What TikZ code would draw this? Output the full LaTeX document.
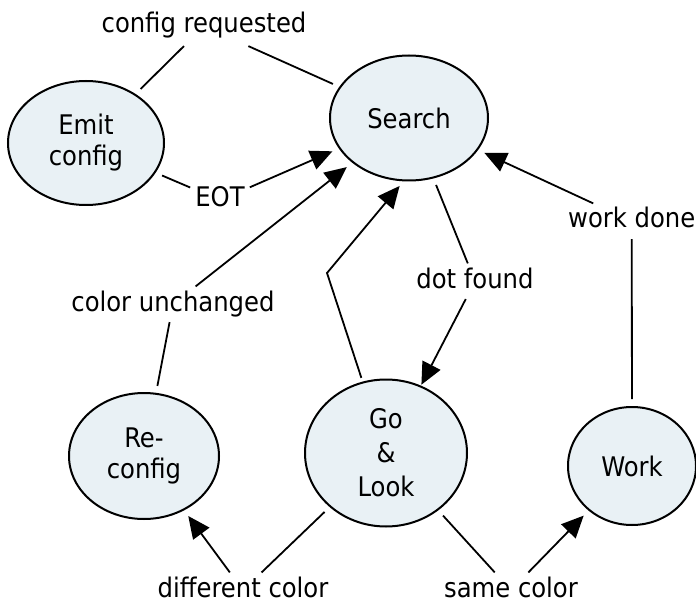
\documentclass[tikz,border=0pt]{standalone}
\usepackage{fontspec}
\setmainfont{DejaVu Sans Condensed}
\usetikzlibrary{shapes.geometric,arrows.meta}
\definecolor{statefill}{RGB}{233,241,245}
\begin{document}
\begin{tikzpicture}[x=1pt,y=-1pt,
  state/.style={ellipse,draw=black,line width=2pt,fill=statefill,inner sep=0pt,align=center,font=\fontsize{27pt}{31pt}\selectfont},
  lbl/.style={inner sep=5pt,font=\fontsize{27pt}{31pt}\selectfont,text height=19.4pt,text depth=5.9pt},
  conn/.style={line width=1.8pt},
  arr/.style={conn,-{Triangle[length=22pt,width=20pt]}},
  ]
\useasboundingbox (0,0) rectangle (696,604);
% states
\node[state,minimum width=156pt,minimum height=124pt] (emit) at (86,143) {Emit\\config};
\node[state,minimum width=158pt,minimum height=125pt] (search) at (409,118) {Search};
\node[state,minimum width=150pt,minimum height=126pt] (reconfig) at (144,456) {Re-\\config};
\node[state,minimum width=162pt,minimum height=147pt,font=\fontsize{27pt}{34pt}\selectfont] (golook) at (386,453) {Go\\\&\\Look};
\node[state,minimum width=128pt,minimum height=118pt] (work) at (632,466) {Work};
% labels
\node[lbl,anchor=base,inner sep=7pt] (lcr) at (204,33) {config requested};
\node[lbl,anchor=base] (leot) at (220,207) {EOT};
\node[lbl,anchor=base] (lcu) at (173,311) {color unchanged};
\node[lbl,anchor=base] (ldot) at (475,288) {dot found};
\node[lbl,anchor=base west,inner xsep=0pt] (lwork) at (568,228) {work done};
\node[lbl,anchor=base] (ldiff) at (243,597) {different color};
\node[lbl,anchor=base] (lsame) at (511,597) {same color};
\coordinate (bend) at (327,273);
% connectors
\draw[conn,shorten <=7pt] (emit) -- (lcr);
\draw[conn,shorten >=7pt] (lcr) -- (search);
\draw[conn,shorten <=7pt] (emit) -- (leot);
\draw[arr,shorten >=7pt] (leot) -- (search);
\draw[conn,shorten <=7pt] (reconfig) -- (lcu);
\draw[arr,shorten >=7pt] (lcu) -- (search);
\draw[arr,shorten <=4pt,shorten >=6pt] (golook) -- (bend) -- (search.265);
\draw[conn,shorten <=7pt] (search) -- (ldot);
\draw[arr,shorten >=1pt] (ldot) -- (golook);
\draw[conn,shorten <=7pt] (work) -- (lwork);
\draw[arr,shorten >=7pt] (lwork) -- (search);
\draw[conn,shorten <=7pt] (golook) -- (ldiff);
\draw[arr,shorten >=7pt] (ldiff) -- (reconfig);
\draw[conn,shorten <=7pt] (golook) -- (lsame);
\draw[arr,shorten >=7pt] (lsame) -- (work);
\end{tikzpicture}
\end{document}
